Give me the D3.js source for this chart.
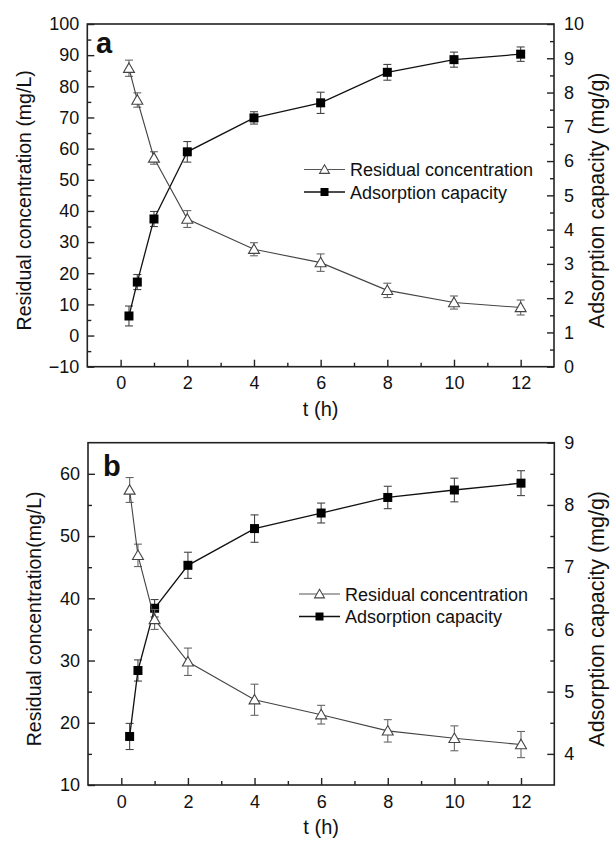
<!DOCTYPE html>
<html><head><meta charset="utf-8">
<script src="https://cdn.jsdelivr.net/npm/d3@7"></script>
<style>
body{margin:0;background:#fff;}
svg{display:block;font-family:"Liberation Sans",Arial,sans-serif;}
</style></head>
<body><svg id="chart" width="610" height="845"></svg>
<script>
// ---- data ----
const times = [0.25, 0.5, 1, 2, 4, 6, 8, 10, 12];
const xTicks = [0, 2, 4, 6, 8, 10, 12];

// panel a
const aResidual = [85.8, 75.6, 57.0, 37.4, 27.7, 23.4, 14.5, 10.6, 9.0];
const aResidualErr = [2.6, 2.3, 2.0, 2.7, 2.1, 2.8, 2.3, 2.1, 2.4];
const aCapacity = [1.48, 2.47, 4.31, 6.27, 7.26, 7.70, 8.59, 8.96, 9.12];
const aCapacityErr = [0.29, 0.22, 0.22, 0.30, 0.18, 0.31, 0.23, 0.22, 0.21];
const aLeftTicks = [-10, 0, 10, 20, 30, 40, 50, 60, 70, 80, 90, 100];
const aRightTicks = [0, 1, 2, 3, 4, 5, 6, 7, 8, 9, 10];

// panel b
const bResidual = [57.4, 46.9, 36.6, 29.8, 23.7, 21.3, 18.7, 17.5, 16.5];
const bResidualErr = [2.0, 1.8, 1.6, 2.2, 2.5, 1.5, 1.8, 2.0, 2.1];
const bCapacity = [4.28, 5.34, 6.34, 7.03, 7.62, 7.87, 8.12, 8.24, 8.35];
const bCapacityErr = [0.21, 0.17, 0.14, 0.21, 0.22, 0.16, 0.18, 0.19, 0.20];
const bLeftTicks = [10, 20, 30, 40, 50, 60];
const bRightTicks = [4, 5, 6, 7, 8, 9];

const legendLabels = ["Residual concentration", "Adsorption capacity"];

const svg = d3.select("#chart");
const FONT = 18;

function panel(cfg) {
  const {left, right, top, bottom} = cfg;
  const g = svg.append("g");
  const x = d3.scaleLinear().domain([-1, 13]).range([left, right]);
  const yL = d3.scaleLinear().domain(cfg.lDomain).range([bottom, top]);
  const yR = d3.scaleLinear().domain(cfg.rDomain).range([bottom, top]);

  // frame
  g.append("rect").attr("x", left).attr("y", top).attr("width", right - left).attr("height", bottom - top)
    .attr("fill", "none").attr("stroke", "#222").attr("stroke-width", 1.6);

  const minorX = d3.range(1, 13, 2);
  const mk = (sel) => sel.call(s => s.select(".domain").remove())
      .call(s => s.selectAll("text").attr("font-size", FONT).attr("fill", "#111").attr("font-family", "Liberation Sans, Arial, sans-serif"))
      .call(s => s.selectAll("line").attr("stroke", "#222").attr("stroke-width", 1.4));

  // bottom axis
  g.append("g").attr("transform", `translate(0,${bottom})`)
    .call(d3.axisBottom(x).tickValues(xTicks).tickSizeInner(-7).tickSizeOuter(0).tickPadding(10).tickFormat(d3.format("d")))
    .call(mk);
  g.append("g").attr("transform", `translate(0,${bottom})`)
    .call(d3.axisBottom(x).tickValues(minorX).tickSizeInner(-4).tickSizeOuter(0).tickFormat(""))
    .call(mk);

  // left axis
  g.append("g").attr("transform", `translate(${left},0)`)
    .call(d3.axisLeft(yL).tickValues(cfg.lTicks).tickSizeInner(-7).tickSizeOuter(0).tickPadding(8).tickFormat(d3.format("d")))
    .call(mk);
  g.append("g").attr("transform", `translate(${left},0)`)
    .call(d3.axisLeft(yL).tickValues(cfg.lTicks.map(v => v + 5).filter(v => v < cfg.lDomain[1])).tickSizeInner(-4).tickSizeOuter(0).tickFormat(""))
    .call(mk);

  // right axis
  g.append("g").attr("transform", `translate(${right},0)`)
    .call(d3.axisRight(yR).tickValues(cfg.rTicks).tickSizeInner(-7).tickSizeOuter(0).tickPadding(10).tickFormat(d3.format("d")))
    .call(mk);
  g.append("g").attr("transform", `translate(${right},0)`)
    .call(d3.axisRight(yR).tickValues(cfg.rTicks.map(v => v + 0.5).filter(v => v < cfg.rDomain[1])).tickSizeInner(-4).tickSizeOuter(0).tickFormat(""))
    .call(mk);

  // titles
  const cy = (top + bottom) / 2;
  g.append("text").attr("transform", `translate(${cfg.lTitleX},${cy + 5}) rotate(-90)`)
    .attr("text-anchor", "middle").attr("font-size", 19.5).attr("fill", "#111").text(cfg.lTitle);
  g.append("text").attr("transform", `translate(${cfg.rTitleX},${cy + 5}) rotate(-90)`)
    .attr("text-anchor", "middle").attr("font-size", 21.5).attr("fill", "#111").text("Adsorption capacity (mg/g)");
  g.append("text").attr("x", (left + right) / 2).attr("y", cfg.xTitleY)
    .attr("text-anchor", "middle").attr("font-size", 20).attr("fill", "#111").text("t (h)");

  // panel letter
  g.append("text").attr("x", cfg.letterX).attr("y", cfg.letterY).attr("font-size", 29).attr("font-weight", "bold")
    .attr("fill", "#111").text(cfg.letter);

  const lineFn = (ys) => d3.line().x((d, i) => x(times[i])).y(d => ys(d));

  function errorBars(vals, errs, ys, color) {
    const eb = g.append("g").attr("stroke", color).attr("stroke-width", 1.1).attr("fill", "none");
    vals.forEach((v, i) => {
      const cx = x(times[i]);
      eb.append("line").attr("x1", cx).attr("x2", cx).attr("y1", ys(v - errs[i])).attr("y2", ys(v + errs[i]));
      [v - errs[i], v + errs[i]].forEach(e => eb.append("line").attr("x1", cx - 4).attr("x2", cx + 4).attr("y1", ys(e)).attr("y2", ys(e)));
    });
  }

  // capacity (squares)
  errorBars(cfg.cap, cfg.capErr, yR, "#444");
  g.append("path").datum(cfg.cap).attr("d", lineFn(yR)).attr("fill", "none").attr("stroke", "#111").attr("stroke-width", 1.3);
  g.selectAll(null).data(cfg.cap).join("rect")
    .attr("x", (d, i) => x(times[i]) - 4.5).attr("y", d => yR(d) - 4.5)
    .attr("width", 9).attr("height", 9).attr("fill", "#000");

  // residual (triangles)
  errorBars(cfg.res, cfg.resErr, yL, "#666");
  g.append("path").datum(cfg.res).attr("d", lineFn(yL)).attr("fill", "none").attr("stroke", "#444").attr("stroke-width", 1.1);
  const tri = d3.symbol().type(d3.symbolTriangle).size(52);
  g.selectAll(null).data(cfg.res).join("path")
    .attr("transform", (d, i) => `translate(${x(times[i])},${yL(d) + 1})`)
    .attr("d", tri).attr("fill", "#fff").attr("stroke", "#444").attr("stroke-width", 1.1);

  // legend
  const lg = g.append("g");
  legendLabels.forEach((lab, i) => {
    const ly = cfg.legY + i * 22.5;
    const lx = cfg.legX;
    if (i === 0) {
      lg.append("line").attr("x1", lx).attr("x2", lx + 41).attr("y1", ly).attr("y2", ly).attr("stroke", "#555").attr("stroke-width", 1.1);
      lg.append("path").attr("transform", `translate(${lx + 20.5},${ly + 1})`).attr("d", d3.symbol().type(d3.symbolTriangle).size(42))
        .attr("fill", "#fff").attr("stroke", "#444").attr("stroke-width", 1.1);
    } else {
      lg.append("line").attr("x1", lx).attr("x2", lx + 41).attr("y1", ly).attr("y2", ly).attr("stroke", "#111").attr("stroke-width", 1.6);
      lg.append("rect").attr("x", lx + 20.5 - 4).attr("y", ly - 4).attr("width", 8).attr("height", 8).attr("fill", "#000");
    }
    lg.append("text").attr("x", lx + 46).attr("y", ly + 6.5).attr("font-size", FONT).attr("fill", "#111").text(lab);
  });
}

panel({
  left: 87.3, right: 554, top: 24, bottom: 366.7,
  lDomain: [-10, 100], rDomain: [0, 10], lTicks: aLeftTicks, rTicks: aRightTicks,
  res: aResidual, resErr: aResidualErr, cap: aCapacity, capErr: aCapacityErr,
  lTitle: "Residual concentration (mg/L)", lTitleX: 31, rTitleX: 604, xTitleY: 416,
  letter: "a", letterX: 96, letterY: 53, legX: 304, legY: 169.5
});
panel({
  left: 88, right: 554.3, top: 442.7, bottom: 785,
  lDomain: [10, 65], rDomain: [3.5, 9], lTicks: bLeftTicks, rTicks: bRightTicks,
  res: bResidual, resErr: bResidualErr, cap: bCapacity, capErr: bCapacityErr,
  lTitle: "Residual concentration(mg/L)", lTitleX: 41, rTitleX: 604, xTitleY: 834,
  letter: "b", letterX: 103, letterY: 476, legX: 299, legY: 594
});
</script></body></html>
